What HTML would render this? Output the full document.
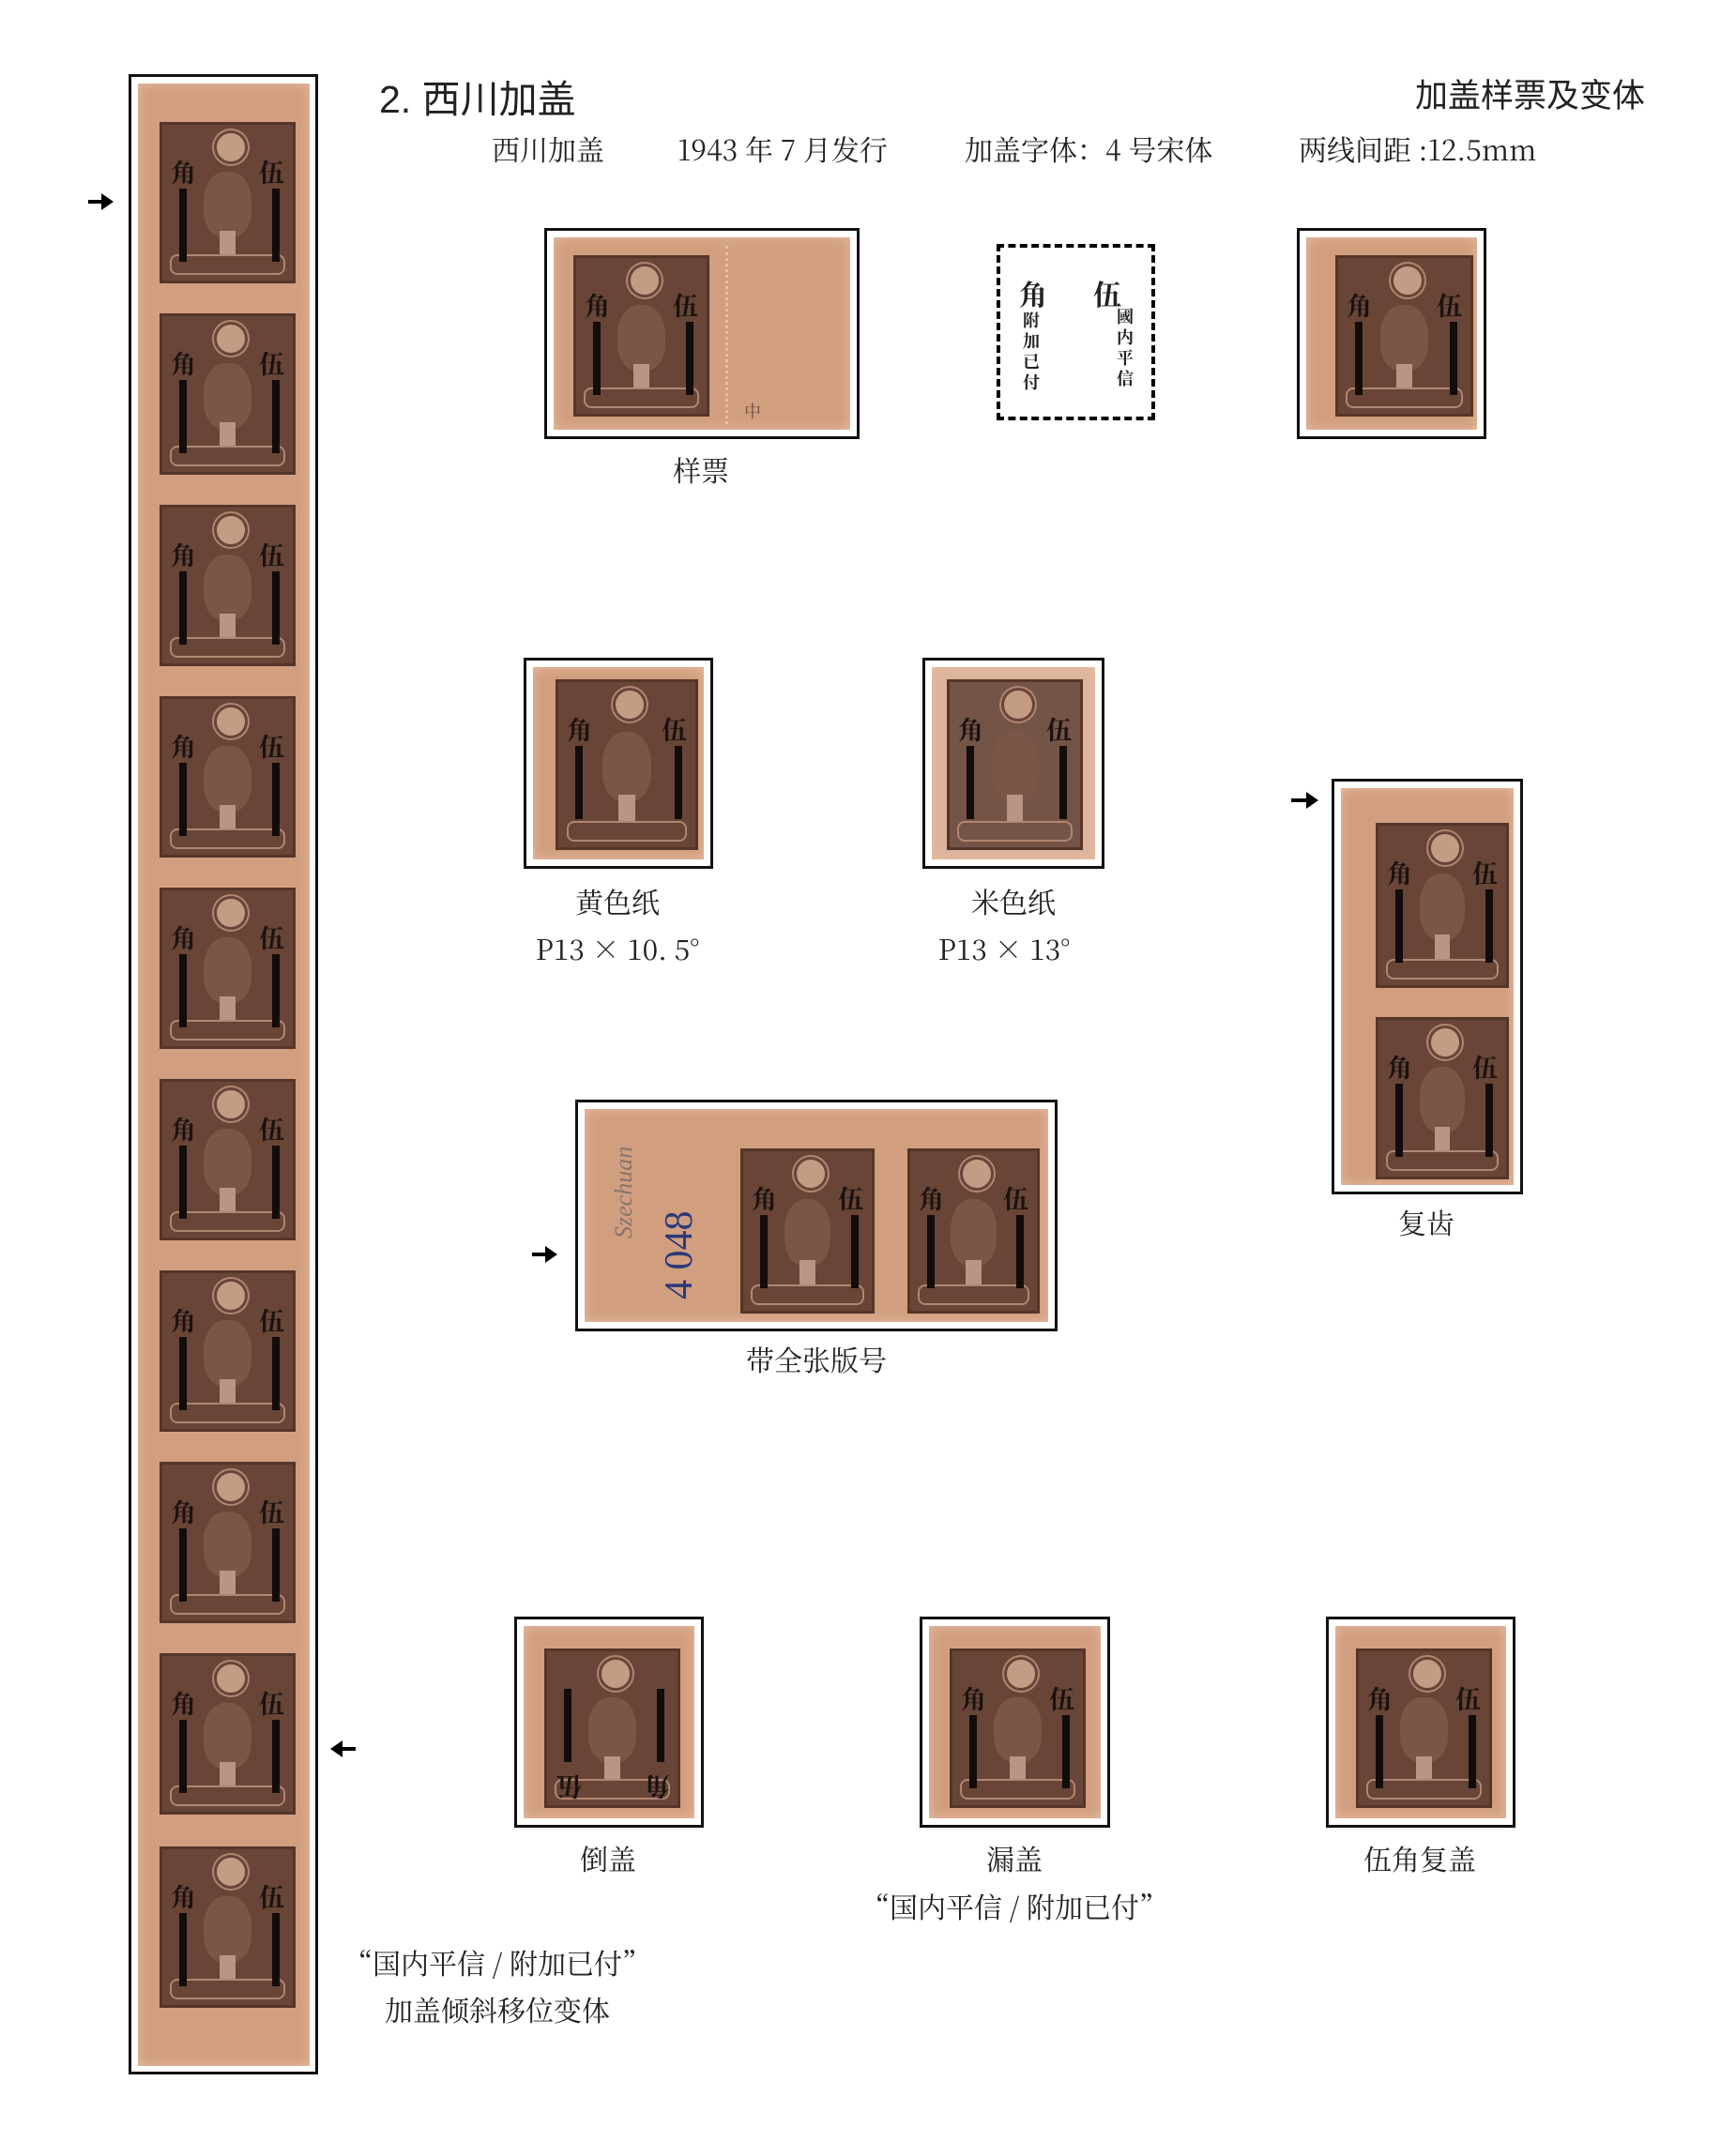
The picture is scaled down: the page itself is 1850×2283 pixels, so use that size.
<!DOCTYPE html>
<html><head><meta charset="utf-8"><style>
body{margin:0;background:#fff;}
#p{position:relative;width:1850px;height:2283px;overflow:hidden;background:#fff;font-family:"Liberation Serif","Noto Serif CJK SC",serif;color:#222;}
.a{position:absolute;}
.fr{position:absolute;border:3px solid #111;box-sizing:border-box;background:#fff;}
.pp{position:absolute;background:#d29e80;box-shadow:inset 0 0 12px #e6bea2;}
.s{position:absolute;background:#684537;border:3px solid #553528;box-sizing:border-box;overflow:hidden;}
.s .sun{position:absolute;left:50%;top:6px;width:30px;height:30px;margin-left:-15px;border-radius:50%;background:#c49c86;border:3px solid #684537;box-shadow:0 0 0 2px #b08672;}
.s .face{position:absolute;left:32%;top:30%;width:36%;height:42%;border-radius:45% 45% 40% 40%;background:#7a5647;}
.s .shirt{position:absolute;left:44%;top:68%;width:12%;height:16%;background:#b89584;}
.s .bot{position:absolute;left:6%;right:6%;bottom:6px;height:18px;border:2px solid #b08672;border-radius:8px;}
.s i{position:absolute;font-style:normal;font-weight:bold;font-size:27px;color:#1a1210;font-family:"Noto Serif CJK SC",serif;line-height:1;}
.s .j{left:9px;top:36px;}
.s .w{right:9px;top:36px;}
.s b{position:absolute;width:8px;background:#120c0a;top:68px;height:78px;}
.s .l{left:18px;}
.s .r{right:14px;}
.lab{position:absolute;font-size:30px;text-align:center;white-space:nowrap;font-family:"Noto Serif CJK SC","Liberation Serif",serif;}
.arr{position:absolute;height:4px;background:#000;}
.arr:after{content:"";position:absolute;top:-7px;border:9px solid transparent;}
.ar:after{right:-12px;border-left:13px solid #000;}
.al:after{left:-12px;border-right:13px solid #000;}
</style></head><body><div id="p">

<div class="fr" style="left:137px;top:79px;width:202px;height:2132px;"></div>
<div class="pp" style="left:147px;top:89px;width:183px;height:2113px;"></div>
<div class="s" style="left:170px;top:130px;width:145px;height:172px;"><span class="sun"></span><span class="face"></span><span class="shirt"></span><span class="bot"></span><i class="j">角</i><i class="w">伍</i><b class="l"></b><b class="r"></b></div>
<div class="s" style="left:170px;top:334px;width:145px;height:172px;"><span class="sun"></span><span class="face"></span><span class="shirt"></span><span class="bot"></span><i class="j">角</i><i class="w">伍</i><b class="l"></b><b class="r"></b></div>
<div class="s" style="left:170px;top:538px;width:145px;height:172px;"><span class="sun"></span><span class="face"></span><span class="shirt"></span><span class="bot"></span><i class="j">角</i><i class="w">伍</i><b class="l"></b><b class="r"></b></div>
<div class="s" style="left:170px;top:742px;width:145px;height:172px;"><span class="sun"></span><span class="face"></span><span class="shirt"></span><span class="bot"></span><i class="j">角</i><i class="w">伍</i><b class="l"></b><b class="r"></b></div>
<div class="s" style="left:170px;top:946px;width:145px;height:172px;"><span class="sun"></span><span class="face"></span><span class="shirt"></span><span class="bot"></span><i class="j">角</i><i class="w">伍</i><b class="l"></b><b class="r"></b></div>
<div class="s" style="left:170px;top:1150px;width:145px;height:172px;"><span class="sun"></span><span class="face"></span><span class="shirt"></span><span class="bot"></span><i class="j">角</i><i class="w">伍</i><b class="l"></b><b class="r"></b></div>
<div class="s" style="left:170px;top:1354px;width:145px;height:172px;"><span class="sun"></span><span class="face"></span><span class="shirt"></span><span class="bot"></span><i class="j">角</i><i class="w">伍</i><b class="l"></b><b class="r"></b></div>
<div class="s" style="left:170px;top:1558px;width:145px;height:172px;"><span class="sun"></span><span class="face"></span><span class="shirt"></span><span class="bot"></span><i class="j">角</i><i class="w">伍</i><b class="l"></b><b class="r"></b></div>
<div class="s" style="left:170px;top:1762px;width:145px;height:172px;"><span class="sun"></span><span class="face"></span><span class="shirt"></span><span class="bot"></span><i class="j">角</i><i class="w">伍</i><b class="l"></b><b class="r"></b></div>
<div class="s" style="left:170px;top:1968px;width:145px;height:172px;"><span class="sun"></span><span class="face"></span><span class="shirt"></span><span class="bot"></span><i class="j">角</i><i class="w">伍</i><b class="l"></b><b class="r"></b></div>
<div class="arr ar" style="left:94px;top:213px;width:24px;"></div>
<div class="arr al" style="left:355px;top:1862px;width:24px;"></div>

<div class="a" style="left:404px;top:72px;font-size:41px;font-family:'Liberation Sans','Noto Sans CJK SC',sans-serif;">2. 西川加盖</div>
<div class="a" style="left:1508px;top:74px;font-size:35px;font-family:'Liberation Sans','Noto Sans CJK SC',sans-serif;">加盖样票及变体</div>
<div class="a" style="left:524px;top:136px;font-size:30px;white-space:nowrap;font-family:'Noto Serif CJK SC',serif;">西川加盖</div>
<div class="a" style="left:722px;top:136px;font-size:30px;white-space:nowrap;font-family:'Noto Serif CJK SC',serif;">1943 年 7 月发行</div>
<div class="a" style="left:1028px;top:136px;font-size:30px;white-space:nowrap;font-family:'Noto Serif CJK SC',serif;">加盖字体：4 号宋体</div>
<div class="a" style="left:1384px;top:136px;font-size:30px;white-space:nowrap;font-family:'Noto Serif CJK SC',serif;">两线间距 :12.5mm</div>

<div class="fr" style="left:580px;top:243px;width:336px;height:225px;"></div>
<div class="pp" style="left:590px;top:253px;width:316px;height:205px;"></div>
<div class="a" style="left:773px;top:262px;width:0;height:190px;border-left:3px dotted #e6c0a0;"></div>
<div class="s" style="left:611px;top:272px;width:145px;height:172px;"><span class="sun"></span><span class="face"></span><span class="shirt"></span><span class="bot"></span><i class="j">角</i><i class="w">伍</i><b class="l"></b><b class="r"></b></div>
<div class="a" style="left:793px;top:425px;font-size:18px;color:#6a4a3c;font-family:'Noto Serif CJK SC',serif;">中</div>
<div class="lab" style="left:697px;top:478px;width:100px;">样票</div>

<div class="a" style="left:1062px;top:260px;width:169px;height:188px;border:4px dashed #000;box-sizing:border-box;background:#fff;"></div>
<div class="a" style="left:1086px;top:290px;font-size:30px;font-weight:bold;font-family:'Noto Serif CJK SC',serif;">角</div>
<div class="a" style="left:1165px;top:290px;font-size:30px;font-weight:bold;font-family:'Noto Serif CJK SC',serif;">伍</div>
<div class="a" style="left:1090px;top:330px;width:20px;font-size:18px;line-height:22px;font-weight:bold;font-family:'Noto Serif CJK SC',serif;">附加已付</div>
<div class="a" style="left:1190px;top:326px;width:20px;font-size:18px;line-height:22px;font-weight:bold;font-family:'Noto Serif CJK SC',serif;">國内平信</div>

<div class="fr" style="left:1382px;top:243px;width:202px;height:225px;"></div>
<div class="pp" style="left:1392px;top:253px;width:182px;height:205px;"></div>
<div class="s" style="left:1423px;top:272px;width:147px;height:172px;"><span class="sun"></span><span class="face"></span><span class="shirt"></span><span class="bot"></span><i class="j">角</i><i class="w">伍</i><b class="l"></b><b class="r"></b></div>

<div class="fr" style="left:558px;top:701px;width:202px;height:225px;"></div>
<div class="pp" style="left:568px;top:711px;width:182px;height:205px;"></div>
<div class="s" style="left:592px;top:724px;width:152px;height:182px;"><span class="sun"></span><span class="face"></span><span class="shirt"></span><span class="bot"></span><i class="j">角</i><i class="w">伍</i><b class="l"></b><b class="r"></b></div>
<div class="lab" style="left:558px;top:938px;width:200px;">黄色纸</div>
<div class="lab" style="left:538px;top:988px;width:240px;">P13 × 10. 5°</div>

<div class="fr" style="left:983px;top:701px;width:194px;height:225px;"></div>
<div class="pp" style="left:993px;top:711px;width:174px;height:205px;background:#dcb49c;"></div>
<div class="s" style="left:1009px;top:724px;width:145px;height:182px;background:#735446;"><span class="sun"></span><span class="face"></span><span class="shirt"></span><span class="bot"></span><i class="j">角</i><i class="w">伍</i><b class="l"></b><b class="r"></b></div>
<div class="lab" style="left:980px;top:938px;width:200px;">米色纸</div>
<div class="lab" style="left:950px;top:988px;width:240px;">P13 × 13°</div>

<div class="fr" style="left:1419px;top:830px;width:204px;height:443px;"></div>
<div class="pp" style="left:1429px;top:840px;width:184px;height:423px;"></div>
<div class="s" style="left:1466px;top:877px;width:142px;height:176px;"><span class="sun"></span><span class="face"></span><span class="shirt"></span><span class="bot"></span><i class="j">角</i><i class="w">伍</i><b class="l"></b><b class="r"></b></div>
<div class="s" style="left:1466px;top:1084px;width:142px;height:173px;"><span class="sun"></span><span class="face"></span><span class="shirt"></span><span class="bot"></span><i class="j">角</i><i class="w">伍</i><b class="l"></b><b class="r"></b></div>
<div class="arr ar" style="left:1376px;top:851px;width:26px;"></div>
<div class="lab" style="left:1420px;top:1280px;width:200px;">复齿</div>

<div class="fr" style="left:613px;top:1172px;width:514px;height:247px;"></div>
<div class="pp" style="left:623px;top:1182px;width:494px;height:227px;"></div>
<div class="a" style="left:650px;top:1320px;font-size:26px;color:#8a7468;transform:rotate(-90deg);transform-origin:left top;font-style:italic;font-family:'Liberation Serif',serif;">Szechuan</div>
<div class="a" style="left:700px;top:1385px;font-size:42px;color:#2a3a7a;transform:rotate(-90deg);transform-origin:left top;white-space:nowrap;font-family:'Liberation Serif',serif;">4 048</div>
<div class="s" style="left:789px;top:1224px;width:143px;height:176px;"><span class="sun"></span><span class="face"></span><span class="shirt"></span><span class="bot"></span><i class="j">角</i><i class="w">伍</i><b class="l"></b><b class="r"></b></div>
<div class="s" style="left:967px;top:1224px;width:141px;height:176px;"><span class="sun"></span><span class="face"></span><span class="shirt"></span><span class="bot"></span><i class="j">角</i><i class="w">伍</i><b class="l"></b><b class="r"></b></div>
<div class="arr ar" style="left:567px;top:1335px;width:24px;"></div>
<div class="lab" style="left:720px;top:1426px;width:300px;">带全张版号</div>

<div class="fr" style="left:548px;top:1723px;width:202px;height:225px;"></div>
<div class="pp" style="left:558px;top:1733px;width:182px;height:205px;"></div>
<div class="s" style="left:580px;top:1757px;width:145px;height:170px;"><span class="sun"></span><span class="face"></span><span class="shirt"></span><span class="bot"></span><b class="l" style="top:40px;"></b><b class="r" style="top:40px;"></b><i style="left:10px;top:132px;transform:rotate(180deg);">伍</i><i style="right:8px;top:132px;transform:rotate(180deg);">角</i></div>
<div class="lab" style="left:548px;top:1958px;width:200px;">倒盖</div>

<div class="fr" style="left:980px;top:1723px;width:203px;height:225px;"></div>
<div class="pp" style="left:990px;top:1733px;width:183px;height:205px;"></div>
<div class="s" style="left:1012px;top:1757px;width:145px;height:170px;"><span class="sun"></span><span class="face"></span><span class="shirt"></span><span class="bot"></span><i class="j">角</i><i class="w">伍</i><b class="l"></b><b class="r"></b></div>
<div class="lab" style="left:981px;top:1958px;width:200px;">漏盖</div>
<div class="lab" style="left:881px;top:2009px;width:400px;">“国内平信 / 附加已付”</div>

<div class="fr" style="left:1413px;top:1723px;width:202px;height:225px;"></div>
<div class="pp" style="left:1423px;top:1733px;width:182px;height:205px;"></div>
<div class="s" style="left:1445px;top:1757px;width:145px;height:170px;"><span class="sun"></span><span class="face"></span><span class="shirt"></span><span class="bot"></span><i class="j">角</i><i class="w">伍</i><b class="l"></b><b class="r"></b></div>
<div class="lab" style="left:1413px;top:1958px;width:200px;">伍角复盖</div>

<div class="lab" style="left:330px;top:2069px;width:400px;">“国内平信 / 附加已付”</div>
<div class="lab" style="left:380px;top:2119px;width:300px;">加盖倾斜移位变体</div>

</div></body></html>
